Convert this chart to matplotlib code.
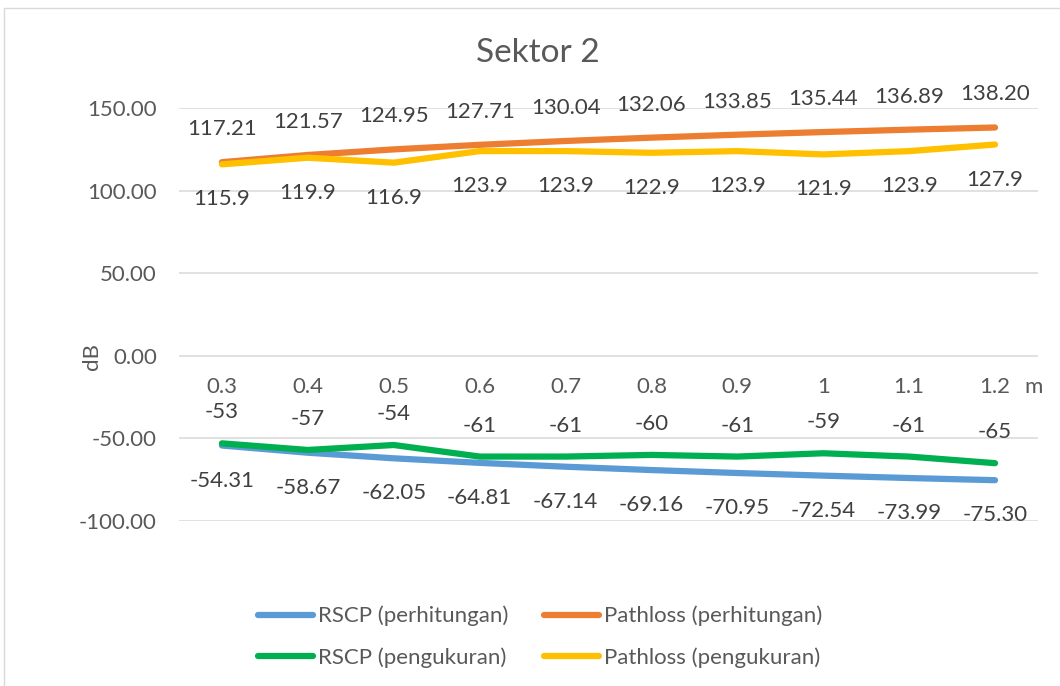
import matplotlib
matplotlib.use("Agg")
import matplotlib.pyplot as plt
from matplotlib.patches import Rectangle

# data
jarak = ["0.3", "0.4", "0.5", "0.6", "0.7", "0.8", "0.9", "1", "1.1", "1.2"]
rscp_hitung = [-54.31, -58.67, -62.05, -64.81, -67.14, -69.16, -70.95, -72.54, -73.99, -75.30]
pathloss_hitung = [117.21, 121.57, 124.95, 127.71, 130.04, 132.06, 133.85, 135.44, 136.89, 138.20]
rscp_ukur = [-53, -57, -54, -61, -61, -60, -61, -59, -61, -65]
pathloss_ukur = [115.9, 119.9, 116.9, 123.9, 123.9, 122.9, 123.9, 121.9, 123.9, 127.9]

plt.rcParams["font.family"] = ["Lato", "DejaVu Sans"]
abu = "#595959"
teks = "#404040"
fs = 16

fig = plt.figure(figsize=(10.6, 6.86), dpi=100)
ax = fig.add_axes([179 / 1060, 1 - 521 / 686, 859 / 1060, 413 / 686])

x = list(range(len(jarak)))
l1, = ax.plot(x, rscp_hitung, color="#5B9BD5", lw=4.5, solid_capstyle="round", clip_on=False)
l2, = ax.plot(x, pathloss_hitung, color="#ED7D31", lw=4.5, solid_capstyle="round", clip_on=False)
l3, = ax.plot(x, rscp_ukur, color="#00B050", lw=4.5, solid_capstyle="round", clip_on=False)
l4, = ax.plot(x, pathloss_ukur, color="#FFC000", lw=4.5, solid_capstyle="round", clip_on=False)

# label data
for i in x:
    ax.annotate("%.2f" % pathloss_hitung[i], (i, pathloss_hitung[i]), xytext=(0, 33),
                textcoords="offset pixels", ha="center", va="center", fontsize=fs, color=teks)
    ax.annotate("%g" % pathloss_ukur[i], (i, pathloss_ukur[i]), xytext=(0, -35),
                textcoords="offset pixels", ha="center", va="center", fontsize=fs, color=teks)
    ax.annotate("%g" % rscp_ukur[i], (i, rscp_ukur[i]), xytext=(0, 31),
                textcoords="offset pixels", ha="center", va="center", fontsize=fs, color=teks)
    ax.annotate("%.2f" % rscp_hitung[i], (i, rscp_hitung[i]), xytext=(0, -35),
                textcoords="offset pixels", ha="center", va="center", fontsize=fs, color=teks)
    # label kategori di sumbu nol
    ax.annotate(jarak[i], (i, 0), xytext=(0, -31), textcoords="offset pixels",
                ha="center", va="center", fontsize=fs, color=abu)

ax.set_xlim(-0.5, 9.5)
ax.set_ylim(-100, 150)
ax.set_xticks([])
ax.set_yticks([-100, -50, 0, 50, 100, 150])
ax.set_yticklabels(["%.2f" % v for v in [-100, -50, 0, 50, 100, 150]])
ax.tick_params(axis="y", length=0, pad=16, labelsize=fs, labelcolor=abu)
ax.grid(axis="y", color="#D9D9D9", lw=1.1)
ax.set_axisbelow(True)
for s in ax.spines.values():
    s.set_visible(False)

fig.text(92 / 1060, 1 - 356 / 686, "dB", rotation=90, ha="center", va="center", fontsize=fs, color=abu)
fig.text(1034 / 1060, 1 - 387 / 686, "m", ha="center", va="center", fontsize=fs, color=abu)
fig.text(538 / 1060, 1 - 53 / 686, "Sektor 2", ha="center", va="center", fontsize=24, color=abu)

fig.legend([l1, l3, l2, l4],
           ["RSCP (perhitungan)", "RSCP (pengukuran)", "Pathloss (perhitungan)", "Pathloss (pengukuran)"],
           loc="center", bbox_to_anchor=(540 / 1060, 1 - 637 / 686), ncol=2, frameon=False,
           fontsize=fs, labelcolor=abu, handlelength=2.5, handletextpad=0.2,
           columnspacing=1.6, labelspacing=0.95)

fig.patches.append(Rectangle((4 / 1060, -0.1), 2, 1.1 - 8 / 686, transform=fig.transFigure,
                             fill=False, edgecolor="#D9D9D9", lw=1))

fig.savefig("out.png", dpi=100)
